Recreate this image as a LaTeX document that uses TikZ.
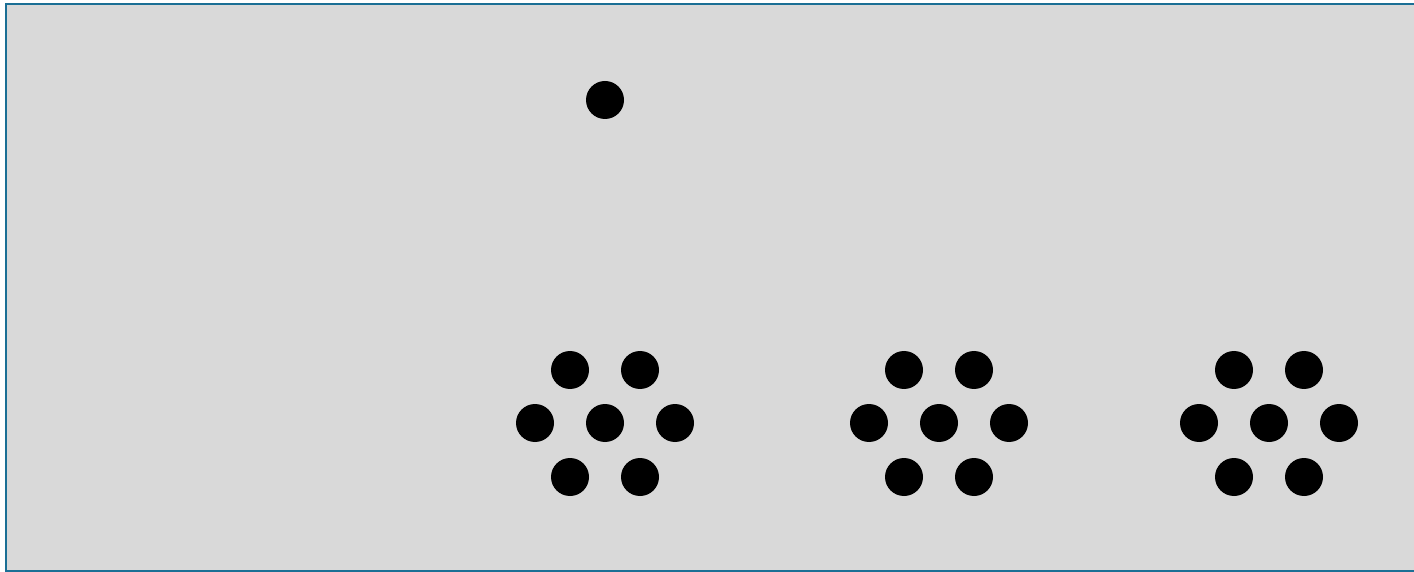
\documentclass[tikz,border=0pt]{standalone}
\usepackage{tikz}
\definecolor{PanelGray}{HTML}{D9D9D9}
\definecolor{PanelBlue}{HTML}{1B6F95}

\begin{document}
\begin{tikzpicture}[
  x=0.5pt,y=-0.5pt,
  dot/.style={circle,fill=black,inner sep=0pt,minimum size=19pt},
  panel/.style={draw=PanelBlue,fill=PanelGray,line width=1pt}
]
\useasboundingbox (0,0) rectangle (1414,572);
\draw[panel] (6,4) rectangle (1420,571);
\node[dot] (top) at (605,100) {};
\foreach \cx/\k in {605/a,939/b,1269/c}{
  \node[dot] (\k1) at (\cx-35,370) {};
  \node[dot] (\k2) at (\cx+35,370) {};
  \node[dot] (\k3) at (\cx-70,423) {};
  \node[dot] (\k4) at (\cx,423) {};
  \node[dot] (\k5) at (\cx+70,423) {};
  \node[dot] (\k6) at (\cx-35,477) {};
  \node[dot] (\k7) at (\cx+35,477) {};
}
\end{tikzpicture}
\end{document}
